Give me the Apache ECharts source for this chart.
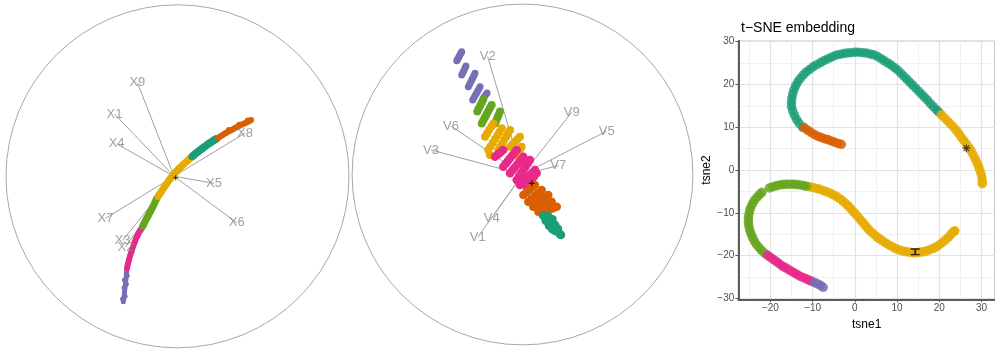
<!DOCTYPE html>
<html><head><meta charset="utf-8">
<script src="https://cdn.jsdelivr.net/npm/echarts@6/dist/echarts.min.js"></script>
<style>html,body{margin:0;padding:0;background:#fff}#c{width:995px;height:351px}</style>
</head><body><div id="c"></div>
<script>
// ---------- Panel 1 : X-variable biplot (unit-circle coordinates) ----------
const xVarNames = ['X9','X1','X4','X8','X5','X6','X7','X3','X2'];
const xVarU = [-0.234,-0.367,-0.355,0.394,0.213,0.345,-0.420,-0.320,-0.303];
const xVarV = [0.546,0.363,0.190,0.252,-0.041,-0.271,-0.245,-0.374,-0.412];
const xOrigin = [-0.02, 0.0];
const xCentroid = [[-0.0105,-0.008]];

const p1Purple = [[-0.316,-0.731],[-0.313,-0.710],[-0.310,-0.686],[-0.308,-0.663],[-0.305,-0.640],[-0.303,-0.616],[-0.300,-0.593],[-0.299,-0.570],[-0.296,-0.549],[-0.320,-0.715],[-0.306,-0.700],[-0.312,-0.650],[-0.298,-0.628],[-0.309,-0.605],[-0.293,-0.580],
  [-0.314,-0.720],[-0.311,-0.698],[-0.309,-0.675],[-0.306,-0.652],[-0.304,-0.628],[-0.301,-0.605],[-0.299,-0.582],[-0.297,-0.560]];
const p1Pink = [[-0.292,-0.523],[-0.286,-0.500],[-0.280,-0.476],[-0.273,-0.453],[-0.265,-0.430],[-0.258,-0.406],[-0.249,-0.383],[-0.240,-0.359],[-0.230,-0.339],[-0.219,-0.319],[-0.209,-0.303],
  [-0.294,-0.536],[-0.289,-0.512],[-0.283,-0.488],[-0.277,-0.465],[-0.269,-0.442],[-0.262,-0.418],[-0.254,-0.395],[-0.245,-0.371],[-0.235,-0.349],[-0.225,-0.329],[-0.214,-0.311]];
const p1Green = [[-0.199,-0.284],[-0.190,-0.265],[-0.180,-0.245],[-0.169,-0.226],[-0.159,-0.206],[-0.149,-0.187],[-0.137,-0.164],[-0.128,-0.144],[-0.120,-0.127],
  [-0.204,-0.293],[-0.195,-0.275],[-0.185,-0.255],[-0.174,-0.236],[-0.164,-0.216],[-0.154,-0.197],[-0.143,-0.176],[-0.133,-0.154],[-0.124,-0.136]];
const p1Yellow = [[-0.108,-0.109],[-0.096,-0.092],[-0.083,-0.071],[-0.070,-0.052],[-0.057,-0.033],[-0.044,-0.016],[-0.029,0.002],[-0.015,0.019],[0.000,0.037],[0.016,0.052],[0.032,0.068],[0.050,0.083],[0.067,0.099],[0.079,0.110],
  [-0.114,-0.118],[-0.102,-0.101],[-0.090,-0.082],[-0.077,-0.062],[-0.063,-0.043],[-0.050,-0.025],[-0.037,-0.007],[-0.022,0.011],[-0.008,0.028],[0.008,0.045],[0.024,0.060],[0.041,0.076],[0.058,0.091],[0.073,0.105]];
const p1Teal = [[0.093,0.121],[0.108,0.134],[0.125,0.148],[0.143,0.161],[0.160,0.174],[0.178,0.187],[0.195,0.198],[0.213,0.210],[0.227,0.219],
  [0.086,0.115],[0.100,0.128],[0.116,0.141],[0.134,0.155],[0.151,0.168],[0.169,0.181],[0.186,0.193],[0.204,0.204],[0.220,0.215]];
const p1Orange = [[0.245,0.229],[0.262,0.240],[0.280,0.251],[0.297,0.261],[0.315,0.270],[0.332,0.280],[0.350,0.289],[0.367,0.297],[0.385,0.306],[0.402,0.314],[0.420,0.322],[0.429,0.328],[0.300,0.270],[0.360,0.300],[0.410,0.325],
  [0.236,0.224],[0.253,0.235],[0.271,0.246],[0.288,0.256],[0.306,0.266],[0.323,0.275],[0.341,0.285],[0.358,0.293],[0.376,0.302],[0.393,0.310],[0.411,0.318]];

// ---------- Panel 2 : V-variable biplot ----------
const vVarNames = ['V2','V9','V5','V6','V3','V7','V4','V1'];
const vVarU = [-0.204,0.289,0.494,-0.420,-0.537,0.210,-0.181,-0.263];
const vVarV = [0.691,0.365,0.255,0.285,0.144,0.052,-0.257,-0.369];
const vOrigin = [0.0, 0.0];
const vCentroid = [[0.054,-0.052]];

const p2Purple = [[-0.386,0.668],[-0.376,0.685],[-0.367,0.703],[-0.357,0.721],[-0.381,0.676],[-0.371,0.694],[-0.362,0.712],
  [-0.357,0.584],[-0.344,0.610],[-0.332,0.637],[-0.350,0.597],[-0.338,0.623],
  [-0.318,0.515],[-0.305,0.542],[-0.292,0.567],[-0.279,0.594],[-0.311,0.528],[-0.298,0.555],[-0.285,0.581],
  [-0.292,0.437],[-0.278,0.463],[-0.264,0.489],[-0.249,0.515],[-0.285,0.450],[-0.271,0.476],[-0.256,0.502],
  [-0.226,0.455],[-0.208,0.478],[-0.217,0.466]];
const p2Green = [[-0.265,0.369],[-0.248,0.405],[-0.230,0.441],[-0.257,0.387],[-0.239,0.423],
  [-0.239,0.300],[-0.220,0.336],[-0.201,0.372],[-0.181,0.408],[-0.230,0.318],[-0.211,0.354],[-0.191,0.390],
  [-0.161,0.300],[-0.147,0.334],[-0.132,0.369],[-0.154,0.317],[-0.140,0.351]];
const p2Yellow = [[-0.220,0.222],[-0.196,0.261],[-0.171,0.300],[-0.208,0.241],[-0.183,0.280],
  [-0.201,0.144],[-0.174,0.186],[-0.148,0.229],[-0.122,0.271],[-0.188,0.165],[-0.161,0.208],[-0.135,0.250],
  [-0.142,0.144],[-0.119,0.183],[-0.096,0.222],[-0.073,0.261],[-0.131,0.163],[-0.108,0.202],[-0.085,0.241],
  [-0.073,0.163],[-0.044,0.192],[-0.015,0.222],[-0.058,0.177],[-0.030,0.207],
  [-0.034,0.114],[-0.019,0.139],[-0.005,0.163],[-0.027,0.126],[-0.012,0.151],[-0.191,0.114]];
const p2Pink = [[-0.161,0.104],[-0.137,0.124],[-0.113,0.144],[-0.149,0.114],[-0.125,0.134],
  [-0.113,0.046],[-0.086,0.079],[-0.060,0.111],[-0.034,0.144],[-0.100,0.062],[-0.073,0.095],[-0.047,0.128],
  [-0.073,0.007],[-0.047,0.039],[-0.021,0.072],[0.005,0.104],[-0.060,0.023],[-0.034,0.056],[-0.008,0.088],
  [-0.034,-0.032],[-0.008,0.007],[0.018,0.046],[0.044,0.085],[-0.021,-0.012],[0.005,0.026],[0.031,0.065],
  [-0.015,-0.062],[0.015,-0.032],[0.044,-0.003],[0.073,0.026],[0.000,-0.047],[0.030,-0.017],[0.058,0.011],
  [0.025,-0.072],[0.054,-0.032],[0.083,0.007],[0.040,-0.052],[0.068,-0.012]];
const p2Orange = [[0.005,-0.120],[0.039,-0.091],[0.073,-0.062],[0.022,-0.105],[0.056,-0.076],
  [0.034,-0.160],[0.073,-0.125],[0.113,-0.091],[0.053,-0.142],[0.093,-0.108],
  [0.063,-0.189],[0.107,-0.155],[0.151,-0.120],[0.085,-0.172],[0.129,-0.137],
  [0.093,-0.218],[0.132,-0.189],[0.171,-0.160],[0.112,-0.203],[0.151,-0.175],
  [0.113,-0.228],[0.157,-0.208],[0.201,-0.189],[0.135,-0.218],[0.179,-0.198]];
const p2Teal = [[0.132,-0.249],[0.161,-0.255],[0.150,-0.279],[0.179,-0.290],[0.167,-0.308],[0.197,-0.314],[0.191,-0.332],[0.214,-0.343],[0.226,-0.355],
  [0.140,-0.262],[0.170,-0.270],[0.160,-0.293],[0.185,-0.300],[0.180,-0.320],[0.205,-0.330],[0.220,-0.350],
  [0.122,-0.242],[0.146,-0.240],[0.176,-0.262],[0.136,-0.272],[0.192,-0.296],[0.155,-0.300],[0.208,-0.318],[0.175,-0.322]];

// ---------- Panel 3 : t-SNE embedding ----------
const tsneTitle = 't\u2212SNE embedding';
const tsneTeal = [[-12.4,10.0],[-13.2,10.9],[-13.8,11.8],[-14.3,12.8],[-14.7,13.8],[-15.0,14.8],[-15.0,15.8],[-14.9,16.8],[-14.7,17.8],[-14.4,18.8],[-14.0,19.7],[-13.5,20.6],[-12.9,21.4],[-12.2,22.2],[-11.5,22.9],[-10.7,23.5],[-9.9,24.1],[-9.0,24.6],[-8.1,25.1],[-7.2,25.6],[-6.3,26.0],[-5.4,26.4],[-4.5,26.8],[-3.6,27.0],[-2.7,27.2],[-1.8,27.3],[-0.9,27.4],[0,27.5],[0.9,27.5],[1.8,27.4],[2.7,27.3],[3.6,27.1],[4.5,26.9],[5.4,26.5],[6.2,26.0],[7.0,25.5],[7.8,25.0],[8.6,24.5],[9.4,23.9],[10.2,23.3],[10.9,22.6],[11.6,21.9],[12.3,21.2],[13.0,20.5],[13.7,19.8],[14.4,19.1],[15.1,18.4],[15.8,17.7],[16.5,17.0],[17.2,16.3],[17.9,15.5],[18.6,14.8],[19.3,14.1],[19.9,13.5]];
const tsneYellowUpper = [[20.5,12.9],[21.2,12.2],[21.9,11.5],[22.6,10.8],[23.3,10.1],[24.0,9.3],[24.6,8.5],[25.2,7.7],[25.8,6.9],[26.4,6.1],[27.0,5.3],[27.5,4.5],[28.0,3.6],[28.5,2.7],[28.9,1.8],[29.3,0.9],[29.6,0],[29.9,-0.9],[30.1,-1.8],[30.2,-2.7],[30.2,-3.2]];
const tsneOrange = [[-12.0,9.9],[-11.2,9.3],[-10.4,8.8],[-9.6,8.3],[-8.8,7.9],[-8.0,7.6],[-7.2,7.3],[-6.4,7.1],[-5.6,6.8],[-4.8,6.5],[-4.0,6.2],[-3.2,6.0]];
const tsneGreen = [[-22.0,-5.2],[-22.5,-5.7],[-23.1,-6.3],[-23.7,-7.0],[-24.2,-7.8],[-24.6,-8.6],[-24.9,-9.5],[-25.1,-10.4],[-25.2,-11.3],[-25.2,-12.2],[-25.1,-13.1],[-24.9,-14.0],[-24.6,-14.9],[-24.2,-15.8],[-23.8,-16.6],[-23.3,-17.4],[-22.7,-18.1],[-22.1,-18.8],[-21.4,-19.4],
  [-20.2,-4.2],[-19.4,-3.9],[-18.6,-3.7],[-17.8,-3.5],[-17.0,-3.4],[-16.2,-3.3],[-15.4,-3.3],[-14.6,-3.3],[-13.8,-3.4],[-13.0,-3.5],[-12.2,-3.6],[-11.5,-3.8]];
const tsnePink = [[-20.7,-19.9],[-20.0,-20.4],[-19.3,-20.9],[-18.6,-21.4],[-17.9,-21.9],[-17.2,-22.4],[-16.5,-22.8],[-15.8,-23.2],[-15.1,-23.6],[-14.4,-24.0],[-13.7,-24.4],[-13.0,-24.8],[-12.3,-25.1],[-11.6,-25.4],[-10.9,-25.7],[-10.2,-26.0]];
const tsnePurple = [[-9.5,-26.3],[-8.8,-26.6],[-8.1,-27.0],[-7.5,-27.4]];
const tsneYellowLower = [[-10.7,-3.9],[-9.9,-4.1],[-9.1,-4.3],[-8.3,-4.5],[-7.5,-4.8],[-6.7,-5.1],[-5.9,-5.4],[-5.1,-5.8],[-4.3,-6.2],[-3.6,-6.7],[-2.9,-7.2],[-2.2,-7.8],[-1.6,-8.4],[-1.0,-9.0],[-0.4,-9.7],[0.2,-10.3],[0.8,-11.0],[1.4,-11.7],[2.0,-12.4],[2.6,-13.1],[3.2,-13.8],[3.8,-14.4],[4.5,-15.0],[5.2,-15.6],[5.9,-16.1],[6.6,-16.6],[7.4,-17.1],[8.2,-17.6],[9.0,-18.0],[9.8,-18.4],[10.6,-18.7],[11.4,-18.9],[12.2,-19.1],[13.0,-19.2],[13.8,-19.3],[14.6,-19.3],[15.4,-19.2],[16.2,-19.1],[17.0,-18.9],[17.8,-18.6],[18.6,-18.3],[19.4,-17.9],[20.1,-17.4],[20.8,-16.9],[21.5,-16.3],[22.2,-15.7],[22.8,-15.0],[23.4,-14.4],[23.7,-14.2]];
const tsneMarkStar = [[26.4,5.1]];
const tsneMarkBar = [[14.3,-19.1]];

// ---------- styling ----------
const C = {teal:'#1B9E77', orange:'#D95F02', purple:'#7570B3', pink:'#E7298A', green:'#66A61E', yellow:'#E6AB02'};
const FONT = '"Liberation Sans", Arial, sans-serif';
const plusPath = 'path://M0,4H10V6H0Z M4,0H6V10H4Z';
const starPath = 'path://M0,4.3H10V5.7H0Z M4.3,0H5.7V10H4.3Z M1,1.9L2,0.9L9,8.1L8,9.1Z M8,0.9L9,1.9L2,9.1L1,8.1Z';
const barPath = 'path://M0,0H10V2H0Z M4,2H6V8H4Z M0,8H10V10H0Z';
const minus = v => (v < 0 ? '\u2212' + Math.abs(v) : String(v));

function scatter(data, color, size, xi, opacity) {
  return {type:'scatter', xAxisIndex:xi, yAxisIndex:xi, data:data, symbolSize:size, z:3,
    itemStyle:{color:color, opacity: opacity == null ? 1 : opacity}, silent:true};
}
function loadings(names, us, vs, origin, xi) {
  return [
    {type:'lines', coordinateSystem:'cartesian2d', xAxisIndex:xi, yAxisIndex:xi, z:2, silent:true,
      lineStyle:{color:'#a0a0a0', width:1, opacity:1},
      data: names.map((n,i)=>({coords:[origin,[us[i],vs[i]]]}))},
    {type:'scatter', xAxisIndex:xi, yAxisIndex:xi, z:5, silent:true, symbolSize:0.1,
      itemStyle:{color:'rgba(0,0,0,0)'},
      label:{show:true, position:'inside', formatter:'{b}', color:'#8a8a8a', fontSize:13, fontFamily:FONT},
      data: names.map((n,i)=>({name:n, value:[us[i],vs[i]]}))}
  ];
}
const hiddenAxis = i => ({gridIndex:i, type:'value', min:-1, max:1, show:false});
const circleAxis = i => ({polarIndex:i, type:'value', min:0, max:360, startAngle:90,
  axisLine:{show:true, lineStyle:{color:'#a8a8a8', width:1}}, axisTick:{show:false},
  axisLabel:{show:false}, splitLine:{show:false}});

const option = {
  animation:false,
  backgroundColor:'#fff',
  textStyle:{fontFamily:FONT},
  title:{text:tsneTitle, left:736, top:16, textStyle:{fontSize:14, fontWeight:'normal', color:'#000', fontFamily:FONT}},
  polar:[{center:[177.5,176.3], radius:171.5},{center:[522.5,174.5], radius:170.4}],
  angleAxis:[circleAxis(0), circleAxis(1)],
  radiusAxis:[{polarIndex:0, type:'value', min:0, max:1, show:false},{polarIndex:1, type:'value', min:0, max:1, show:false}],
  grid:[
    {left:6, top:4.8, width:343, height:343},
    {left:352.1, top:4.1, width:340.8, height:340.8},
    {left:738.3, top:40.7, width:259.6, height:258.6, show:true, borderColor:'#8a8a8a', borderWidth:1, backgroundColor:'#fff'}
  ],
  xAxis:[hiddenAxis(0), hiddenAxis(1),
    {gridIndex:2, type:'value', min:-27.6, max:33.2,
      name:'tsne1', nameLocation:'middle', nameGap:16, nameTextStyle:{fontSize:12, color:'#000', fontFamily:FONT},
      axisLine:{show:true, onZero:false, lineStyle:{color:'#5a5a5a', width:2}},
      axisTick:{show:true, length:3, lineStyle:{color:'#5a5a5a'}},
      axisLabel:{fontSize:10, color:'#4d4d4d', margin:4, showMinLabel:false, showMaxLabel:false, formatter:minus},
      splitLine:{show:true, lineStyle:{color:'#e2e2e2', width:1.2}},
      minorTick:{show:false, splitNumber:2},
      minorSplitLine:{show:true, lineStyle:{color:'#eeeeee', width:0.8}}}],
  yAxis:[hiddenAxis(0), hiddenAxis(1),
    {gridIndex:2, type:'value', min:-30.2, max:30.2,
      name:'tsne2', nameLocation:'middle', nameGap:26, nameRotate:90, nameTextStyle:{fontSize:12, color:'#000', fontFamily:FONT},
      axisLine:{show:true, onZero:false, lineStyle:{color:'#5a5a5a', width:2}},
      axisTick:{show:true, length:3, lineStyle:{color:'#5a5a5a'}},
      axisLabel:{fontSize:10, color:'#4d4d4d', margin:4, showMinLabel:false, showMaxLabel:false, formatter:minus},
      splitLine:{show:true, lineStyle:{color:'#e2e2e2', width:1.2}},
      minorTick:{show:false, splitNumber:2},
      minorSplitLine:{show:true, lineStyle:{color:'#eeeeee', width:0.8}}}],
  series:[
    ...loadings(xVarNames, xVarU, xVarV, xOrigin, 0),
    scatter(p1Purple, C.purple, 5, 0),
    scatter(p1Pink, C.pink, 6, 0),
    scatter(p1Green, C.green, 7, 0),
    scatter(p1Yellow, C.yellow, 7, 0),
    scatter(p1Teal, C.teal, 7.5, 0),
    scatter(p1Orange, C.orange, 6, 0),
    {type:'scatter', xAxisIndex:0, yAxisIndex:0, data:xCentroid, symbol:plusPath, symbolSize:5, z:6, itemStyle:{color:'#000'}, silent:true},

    ...loadings(vVarNames, vVarU, vVarV, vOrigin, 1),
    scatter(p2Purple, C.purple, 7, 1),
    scatter(p2Green, C.green, 8, 1),
    scatter(p2Yellow, C.yellow, 8, 1),
    scatter(p2Pink, C.pink, 8.5, 1),
    scatter(p2Orange, C.orange, 8.5, 1),
    scatter(p2Teal, C.teal, 8.5, 1),
    {type:'scatter', xAxisIndex:1, yAxisIndex:1, data:vCentroid, symbol:plusPath, symbolSize:6, z:6, itemStyle:{color:'#000'}, silent:true},

    scatter(tsneTeal, C.teal, 9.5, 2, 0.8),
    scatter(tsneOrange, C.orange, 9.5, 2, 0.85),
    scatter(tsneYellowUpper, C.yellow, 9.5, 2, 0.85),
    scatter(tsneYellowLower, C.yellow, 9.5, 2, 0.85),
    scatter(tsneGreen, C.green, 9.5, 2, 0.85),
    scatter(tsnePink, C.pink, 9.5, 2, 0.85),
    scatter(tsnePurple, C.purple, 9.5, 2, 0.85),
    {type:'scatter', xAxisIndex:2, yAxisIndex:2, data:tsneMarkStar, symbol:starPath, symbolSize:8, z:6, itemStyle:{color:'#222'}, silent:true},
    {type:'scatter', xAxisIndex:2, yAxisIndex:2, data:tsneMarkBar, symbol:barPath, symbolSize:[9,7], z:6, itemStyle:{color:'#000'}, silent:true}
  ]
};
const chart = echarts.init(document.getElementById('c'), null, {renderer:'canvas'});
chart.setOption(option);
</script></body></html>
